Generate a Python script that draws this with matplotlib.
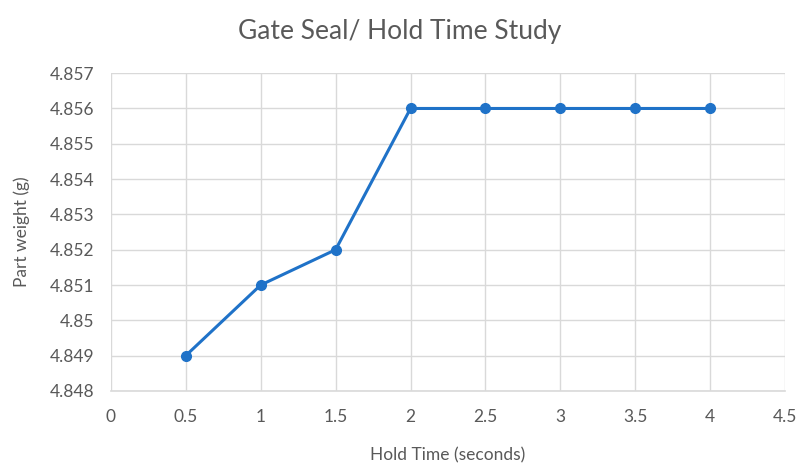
import matplotlib
matplotlib.use('Agg')
from matplotlib import pyplot as plt

plt.rcParams['font.family'] = ['Lato', 'DejaVu Sans']

# hold time study data
hold_time = [0.5, 1, 1.5, 2, 2.5, 3, 3.5, 4]
part_weight = [4.849, 4.851, 4.852, 4.856, 4.856, 4.856, 4.856, 4.856]

x_ticks = [0, 0.5, 1, 1.5, 2, 2.5, 3, 3.5, 4, 4.5]
x_labels = ['0', '0.5', '1', '1.5', '2', '2.5', '3', '3.5', '4', '4.5']
y_ticks = [4.848, 4.849, 4.85, 4.851, 4.852, 4.853, 4.854, 4.855, 4.856, 4.857]
y_labels = ['4.848', '4.849', '4.85', '4.851', '4.852', '4.853', '4.854', '4.855', '4.856', '4.857']

grey = '#595959'
grid = '#D9D9D9'

fig = plt.figure(figsize=(8, 4.66), dpi=100)
ax = fig.add_axes([0.1385, 0.161, 0.843, 0.682])

ax.plot(hold_time, part_weight, color='#1F72C8', lw=2.2, marker='o', ms=7, zorder=3, clip_on=False)

ax.set_xlim(0, 4.5)
ax.set_ylim(4.848, 4.857)
ax.set_xticks(x_ticks)
ax.set_xticklabels(x_labels)
ax.set_yticks(y_ticks)
ax.set_yticklabels(y_labels)
ax.grid(True, color=grid, lw=1)
ax.set_axisbelow(True)

for s in ['top', 'right', 'left']:
    ax.spines[s].set_visible(False)
ax.spines['bottom'].set_color(grid)
ax.spines['bottom'].set_linewidth(1.2)

ax.tick_params(length=0, colors=grey, labelsize=12.5)
ax.tick_params(axis='x', pad=13)
ax.tick_params(axis='y', pad=12)

ax.set_xlabel('Hold Time (seconds)', color=grey, fontsize=12.5, labelpad=16)
ax.set_ylabel('Part weight (g)', color=grey, fontsize=12.5, labelpad=14)
fig.suptitle('Gate Seal/ Hold Time Study', color=grey, fontsize=19, y=0.96)

fig.savefig('out.png', dpi=100, facecolor='white')
